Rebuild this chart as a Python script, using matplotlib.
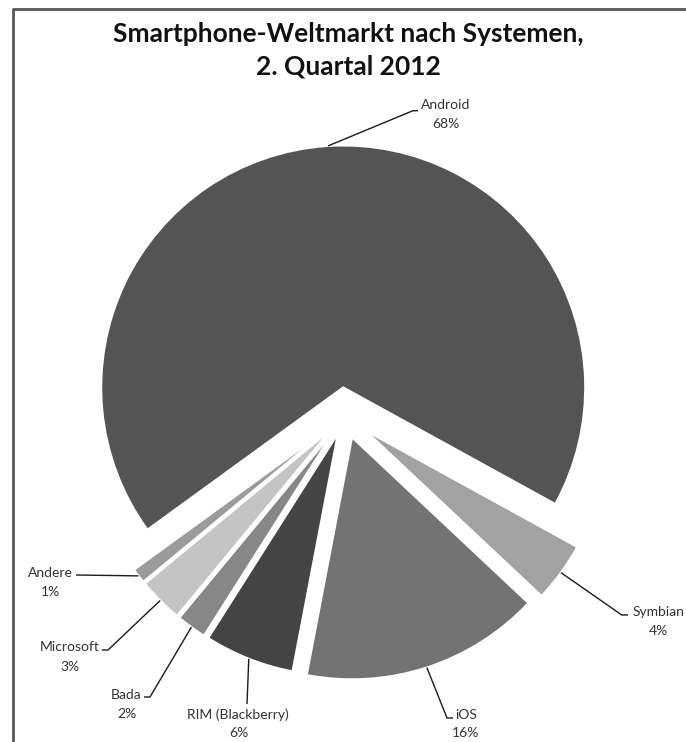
import matplotlib.pyplot as plt
import numpy as np

plt.rcParams['font.family'] = ['Lato', 'DejaVu Sans']

systems = ['Android', 'Symbian', 'iOS', 'RIM (Blackberry)', 'Bada', 'Microsoft', 'Andere']
shares = [68, 4, 16, 6, 2, 3, 1]
explode = [0.117, 0.103, 0.094, 0.08, 0.08, 0.08, 0.08]
colors = ['#545454', '#a2a2a2', '#737373', '#444444', '#878787', '#c4c4c4', '#9b9b9b']

W, H = 686, 742
CX, CY, R = 345.0, 415.7, 242.0   # pie centre / radius in pixels


def px(x, y):
    # pixel position (y down) -> data units (pie radius = 1)
    return (x - CX) / R, (CY - y) / R


# label layout in pixels: name centre, percent centre, leader points from text side
label_layout = {
    'Android': ((446, 105), (446, 124), [(418, 110.7), (413, 110.7)]),
    'Symbian': ((658, 612), (658, 631), [(628, 615), (621.7, 615)]),
    'iOS': ((466, 715), (466, 733), [(453, 718), (447, 718)]),
    'RIM (Blackberry)': ((238, 715), (239, 733), [(247, 704)]),
    'Bada': ((126, 695), (127, 714), [(144, 697), (150, 697)]),
    'Microsoft': ((70, 647), (70, 667), [(102, 650), (108, 650)]),
    'Andere': ((50.5, 573), (50, 592), [(76, 575)]),
}

fig = plt.figure(figsize=(W / 100, H / 100), dpi=100)
ax = fig.add_axes([0, 0, 1, 1])
wedges, _ = ax.pie(shares, explode=explode, colors=colors, startangle=216,
                   counterclock=False, radius=1, center=(0, 0),
                   wedgeprops=dict(edgecolor='white', linewidth=1.5))

x0, y0 = px(0, H)
x1, y1 = px(W, 0)
ax.set_xlim(x0, x1)
ax.set_ylim(y0, y1)
ax.set_aspect('auto')
ax.axis('off')

for w, name, val in zip(wedges, systems, shares):
    name_xy, pct_xy, pts = label_layout[name]
    tm = np.deg2rad((w.theta1 + w.theta2) / 2)
    ax_, ay_ = w.center[0] + w.r * np.cos(tm), w.center[1] + w.r * np.sin(tm)
    line = [px(*p) for p in pts] + [(ax_, ay_)]
    ax.plot([p[0] for p in line], [p[1] for p in line], color='#1a1a1a', lw=1.0,
            solid_capstyle='butt')
    ax.text(*px(*name_xy), name, ha='center', va='center', fontsize=10, color='#333333')
    ax.text(*px(*pct_xy), f'{val}%', ha='center', va='center', fontsize=10, color='#333333')

# title
ax.text(*px(348, 41.6), 'Smartphone-Weltmarkt nach Systemen,', ha='center',
        va='baseline', fontsize=19, fontweight='bold', color='#111111')
ax.text(*px(348, 74.5), '2. Quartal 2012', ha='center',
        va='baseline', fontsize=19, fontweight='bold', color='#111111')

# frame (cut off at right and bottom)
ax.plot(*zip(px(13, H), px(13, 9), px(W, 9)), color='#555555', lw=2, clip_on=False)

fig.savefig('out.png', dpi=100)
